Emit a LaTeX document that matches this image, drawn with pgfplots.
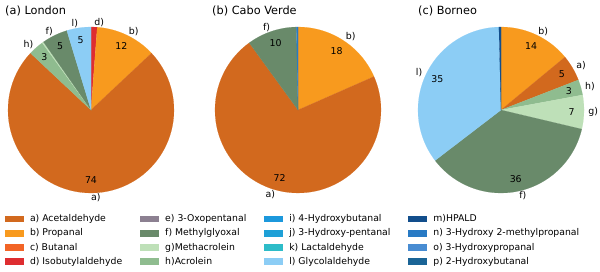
\documentclass[border=0pt]{standalone}
\usepackage{pgfplots}
\pgfplotsset{compat=1.18}
\usepackage{pgfplotstable}
\usepackage{fontspec}
\setmainfont{DejaVu Sans}

\definecolor{cA}{RGB}{210,105,30}
\definecolor{cB}{RGB}{248,154,30}
\definecolor{cC}{RGB}{242,100,38}
\definecolor{cD}{RGB}{222,45,48}
\definecolor{cE}{RGB}{140,128,145}
\definecolor{cF}{RGB}{105,138,106}
\definecolor{cG}{RGB}{190,224,184}
\definecolor{cH}{RGB}{143,188,143}
\definecolor{cI}{RGB}{28,152,220}
\definecolor{cJ}{RGB}{30,160,215}
\definecolor{cK}{RGB}{45,188,200}
\definecolor{cL}{RGB}{140,205,245}
\definecolor{cM}{RGB}{18,78,140}
\definecolor{cN}{RGB}{40,122,196}
\definecolor{cO}{RGB}{72,140,210}
\definecolor{cP}{RGB}{26,100,150}

\newcommand\titlefont{\fontsize{11.3bp}{13bp}\selectfont}
\newcommand\labfont{\fontsize{9.4bp}{11bp}\selectfont}
\newcommand\legfont{\fontsize{9.3bp}{11bp}\selectfont}

% slices in clockwise order from the top; show: 0 none, 1 letter, 2 letter+value
\pgfplotstableread{
lab val col show
d 1.2 cD 1
b 11.8 cB 2
a 74.0 cA 2
h 3.0 cH 2
g 0.3 cG 0
f 5.0 cF 2
l 4.7 cL 2
}\londondata

\pgfplotstableread{
lab val col show
b 18.4 cB 2
a 71.6 cA 2
f 9.7 cF 2
n 0.3 cN 0
}\caboverdedata

\pgfplotstableread{
lab val col show
b 14.0 cB 2
a 5.1 cA 2
h 3.0 cH 2
g 6.6 cG 2
f 35.9 cF 2
l 35.0 cL 2
m 0.4 cM 0
}\borneodata

\newcommand\drawpie[1]{%
  \pgfplotstablegetrowsof{#1}%
  \pgfmathtruncatemacro\lastrow{\pgfplotsretval-1}%
  \gdef\cum{0}%
  \pgfplotsforeachungrouped \i in {0,...,\lastrow}{%
    \pgfplotstablegetelem{\i}{val}\of{#1}\let\pieV=\pgfplotsretval
    \pgfplotstablegetelem{\i}{col}\of{#1}\let\pieC=\pgfplotsretval
    \pgfplotstablegetelem{\i}{lab}\of{#1}\let\pieL=\pgfplotsretval
    \pgfplotstablegetelem{\i}{show}\of{#1}\let\pieS=\pgfplotsretval
    \pgfmathsetmacro\aS{90-3.6*\cum}%
    \pgfmathsetmacro\aE{90-3.6*(\cum+\pieV)}%
    \pgfmathsetmacro\aM{(\aS+\aE)/2}%
    \pgfmathsetmacro\pcx{cos(\aM)}%
    \pgfmathsetmacro\pcy{sin(\aM)}%
    \pgfmathsetmacro\newcum{\cum+\pieV}\global\let\cum\newcum
    \pgfmathtruncatemacro\pv{round(\pieV)}%
    \edef\temp{\noexpand\addplot[fill=\pieC, draw=\pieC, line width=0.1pt, domain=\aE:\aS, samples=80, forget plot] ({cos(x)},{sin(x)}) -- (axis cs:0,0) -- cycle;}\temp
    \ifnum\pieS>0
      \ifdim\pcx pt<-0.01pt \def\anc{east}\else\def\anc{west}\fi
      \edef\temp{\noexpand\node[anchor=\anc, inner sep=0pt, font=\noexpand\labfont] at (axis cs:{1.05*\pcx},{1.05*\pcy}) {\pieL)};}\temp
    \fi
    \ifnum\pieS>1
      \edef\temp{\noexpand\node[inner sep=0pt, font=\noexpand\labfont] at (axis cs:{0.85*\pcx},{0.85*\pcy}) {\pv};}\temp
    \fi
  }%
}

\pgfplotsset{pieaxis/.style={anchor=center, x=83bp, y=83bp, xmin=-1.3, xmax=1.3, ymin=-1.3, ymax=1.3, hide axis, clip=false}}

\begin{document}
\begin{tikzpicture}
\useasboundingbox (0bp,0bp) rectangle (600bp,-272bp);

\begin{axis}[pieaxis, at={(91bp,-110bp)}]
\drawpie{\londondata}
\end{axis}
\begin{axis}[pieaxis, at={(298bp,-110bp)}]
\drawpie{\caboverdedata}
\end{axis}
\begin{axis}[pieaxis, at={(501bp,-110bp)}]
\drawpie{\borneodata}
\end{axis}

\node[anchor=base west, inner sep=0pt, font=\titlefont] at (5bp,-14bp) {(a) London};
\node[anchor=base west, inner sep=0pt, font=\titlefont] at (212bp,-14bp) {(b) Cabo Verde};
\node[anchor=base west, inner sep=0pt, font=\titlefont] at (418bp,-14bp) {(c) Borneo};

\begin{axis}[at={(5bp,-214.5bp)}, anchor=north west, hide axis,
  x=1bp, y=1bp, xmin=0, xmax=1, ymin=0, ymax=1,
  legend columns=4, legend cell align=left,
  legend image code/.code={\fill[#1] (0bp,-3.3bp) rectangle (19bp,3.3bp);},
  legend style={at={(0,1)}, anchor=north west, draw=none, fill=none,
    inner sep=0pt, outer sep=0pt, font=\legfont, row sep=4.9bp,
    nodes={inner sep=0pt, text height=7.1bp, text depth=2.2bp},
    /tikz/every odd column/.append style={column sep=6bp},
    /tikz/every even column/.append style={column sep=18bp}}]
\addlegendimage{fill=cA, draw=none}\addlegendentry{a) Acetaldehyde}
\addlegendimage{fill=cE, draw=none}\addlegendentry{e) 3-Oxopentanal}
\addlegendimage{fill=cI, draw=none}\addlegendentry{i) 4-Hydroxybutanal}
\addlegendimage{fill=cM, draw=none}\addlegendentry{m)HPALD}
\addlegendimage{fill=cB, draw=none}\addlegendentry{b) Propanal}
\addlegendimage{fill=cF, draw=none}\addlegendentry{f) Methylglyoxal}
\addlegendimage{fill=cJ, draw=none}\addlegendentry{j) 3-Hydroxy-pentanal}
\addlegendimage{fill=cN, draw=none}\addlegendentry{n) 3-Hydroxy 2-methylpropanal}
\addlegendimage{fill=cC, draw=none}\addlegendentry{c) Butanal}
\addlegendimage{fill=cG, draw=none}\addlegendentry{g)Methacrolein}
\addlegendimage{fill=cK, draw=none}\addlegendentry{k) Lactaldehyde}
\addlegendimage{fill=cO, draw=none}\addlegendentry{o) 3-Hydroxypropanal}
\addlegendimage{fill=cD, draw=none}\addlegendentry{d) Isobutylaldehyde}
\addlegendimage{fill=cH, draw=none}\addlegendentry{h)Acrolein}
\addlegendimage{fill=cL, draw=none}\addlegendentry{l) Glycolaldehyde}
\addlegendimage{fill=cP, draw=none}\addlegendentry{p) 2-Hydroxybutanal}
\end{axis}
\end{tikzpicture}
\end{document}
